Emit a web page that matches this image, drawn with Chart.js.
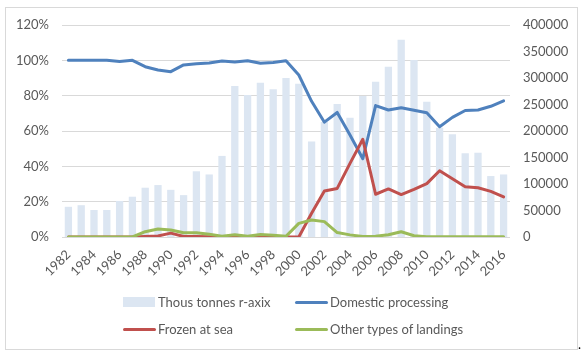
<!DOCTYPE html>
<html>
<head>
<meta charset="utf-8">
<script src="https://cdn.jsdelivr.net/npm/chart.js@4"></script>
<style>
  html, body { margin: 0; padding: 0; background: #ffffff; }
  #wrap { position: relative; width: 583px; height: 355px; overflow: hidden; font-family: Lato, "Liberation Sans", sans-serif; }
  #frame { position: absolute; left: 5px; top: 7px; width: 571px; height: 341px; border: 1px solid #d9d9d9; box-sizing: content-box; }
  canvas { position: absolute; left: 0; top: 0; }
  .leg { position: absolute; font-size: 13px; color: #595959; line-height: 16px; white-space: nowrap; }
  .sw { position: absolute; }
  #dot { position: absolute; left: 578px; top: 336px; font-size: 13px; color: #000; }
</style>
</head>
<body>
<div id="wrap">
  <div id="frame"></div>
  <canvas id="c" width="583" height="355"></canvas>
  <div id="legend"></div>
  <div id="dot">.</div>
</div>
<script>
const years = ['1982','1983','1984','1985','1986','1987','1988','1989','1990','1991','1992','1993','1994','1995','1996','1997','1998','1999','2000','2001','2002','2003','2004','2005','2006','2007','2008','2009','2010','2011','2012','2013','2014','2015','2016'];
const thousTonnes = [57000,60000,51000,51000,68000,76000,93000,98000,89000,79000,124000,118000,153000,285000,268000,291000,279000,300000,289000,180000,217000,251000,225000,266000,293000,321000,372000,334000,255000,206000,194000,158000,159000,115000,118000];
const domesticProcessing = [100,100,100,100,99.4,100,96.4,94.5,93.6,97.4,98.1,98.5,99.6,99,99.8,98.3,98.8,99.8,91.7,76.8,65,70.5,57.7,44.3,74.4,71.9,73.2,71.7,70.3,62.4,67.7,71.6,71.9,74,77.1];
const frozenAtSea = [0,0,0,0,0,0,0.3,0.6,2.2,0.3,0.3,0.2,0,0,0.1,0.2,0.2,0,0,13.4,26,27.5,41.7,55.3,24.2,27.2,24,27,30.2,37.5,33,28.5,27.9,25.8,22.7];
const otherLandings = [0,0,0,0,0,0,3,4.5,4,2.4,2.4,1.5,0.5,1.3,0.4,1.4,1,0.4,7.7,9.6,8.7,2.5,1.2,0.3,0.4,1.3,3,0.7,0.2,0.1,0.1,0.1,0.1,0.2,0.2];
const leftTicks = [0,20,40,60,80,100,120];
const rightTicks = [0,50000,100000,150000,200000,250000,300000,350000,400000];

const txt = '#595959';
const font = { family: 'Lato, "Liberation Sans", sans-serif', size: 13 };

const datasets = [
  { type: 'bar', label: 'Thous tonnes r-axix', data: thousTonnes, backgroundColor: '#dce6f2', yAxisID: 'yR', order: 4, categoryPercentage: 1, barPercentage: 0.57 },
  { type: 'line', label: 'Domestic processing', data: domesticProcessing, borderColor: '#4f81bd', backgroundColor: '#4f81bd', borderWidth: 3, pointRadius: 0, tension: 0, yAxisID: 'yL', order: 3, borderJoinStyle: 'round', borderCapStyle: 'round' },
  { type: 'line', label: 'Frozen at sea', data: frozenAtSea, borderColor: '#c0504d', backgroundColor: '#c0504d', borderWidth: 3, pointRadius: 0, tension: 0, yAxisID: 'yL', order: 2, borderJoinStyle: 'round', borderCapStyle: 'round' },
  { type: 'line', label: 'Other types of landings', data: otherLandings, borderColor: '#9bbb59', backgroundColor: '#9bbb59', borderWidth: 3, pointRadius: 0, tension: 0, yAxisID: 'yL', order: 1, borderJoinStyle: 'round', borderCapStyle: 'round' }
];

const chart = new Chart(document.getElementById('c'), {
  data: { labels: years, datasets: datasets },
  options: {
    responsive: false,
    animation: false,
    devicePixelRatio: 1,
    layout: { padding: { top: 25, left: 0, right: 0, bottom: 0 } },
    plugins: { legend: { display: false }, tooltip: { enabled: false } },
    scales: {
      x: {
        offset: true,
        grid: { display: false, drawTicks: false },
        border: { display: false },
        ticks: {
          autoSkip: false, minRotation: 45, maxRotation: 45, color: txt, font: font, padding: 10,
          callback: function(v, i) { return i % 2 === 0 ? years[i] : ''; }
        },
        afterFit: function(s) { s.height = 118; }
      },
      yL: {
        position: 'left', min: 0, max: 120,
        afterBuildTicks: function(s) { s.ticks = leftTicks.map(v => ({ value: v })); },
        grid: { color: '#d9d9d9', lineWidth: 1, drawTicks: false },
        border: { display: false },
        ticks: { color: txt, font: font, padding: 13, callback: v => v + '%' },
        afterFit: function(s) { s.width = 62; }
      },
      yR: {
        position: 'right', min: 0, max: 400000,
        afterBuildTicks: function(s) { s.ticks = rightTicks.map(v => ({ value: v })); },
        grid: { display: false, drawTicks: false },
        border: { display: false },
        ticks: { color: txt, font: font, padding: 13, callback: v => String(v) },
        afterFit: function(s) { s.width = 73; }
      }
    }
  }
});

// Legend built from the datasets
const legendPos = [
  { x: 123, y: 302 }, { x: 295, y: 302 }, { x: 123, y: 329 }, { x: 295, y: 329 }
];
const legend = document.getElementById('legend');
datasets.forEach(function(ds, i) {
  const p = legendPos[i];
  const sw = document.createElement('div');
  sw.className = 'sw';
  if (ds.type === 'bar') {
    sw.style.left = p.x + 'px'; sw.style.top = (p.y - 5) + 'px';
    sw.style.width = '32px'; sw.style.height = '10px';
    sw.style.background = ds.backgroundColor;
  } else {
    sw.style.left = p.x + 'px'; sw.style.top = (p.y - 1.5) + 'px';
    sw.style.width = '33px'; sw.style.height = '3px';
    sw.style.background = ds.borderColor; sw.style.borderRadius = '1.5px';
  }
  legend.appendChild(sw);
  const t = document.createElement('div');
  t.className = 'leg';
  t.textContent = ds.label;
  t.style.left = (p.x + 35) + 'px';
  t.style.top = (p.y - 8) + 'px';
  legend.appendChild(t);
});
</script>
</body>
</html>
